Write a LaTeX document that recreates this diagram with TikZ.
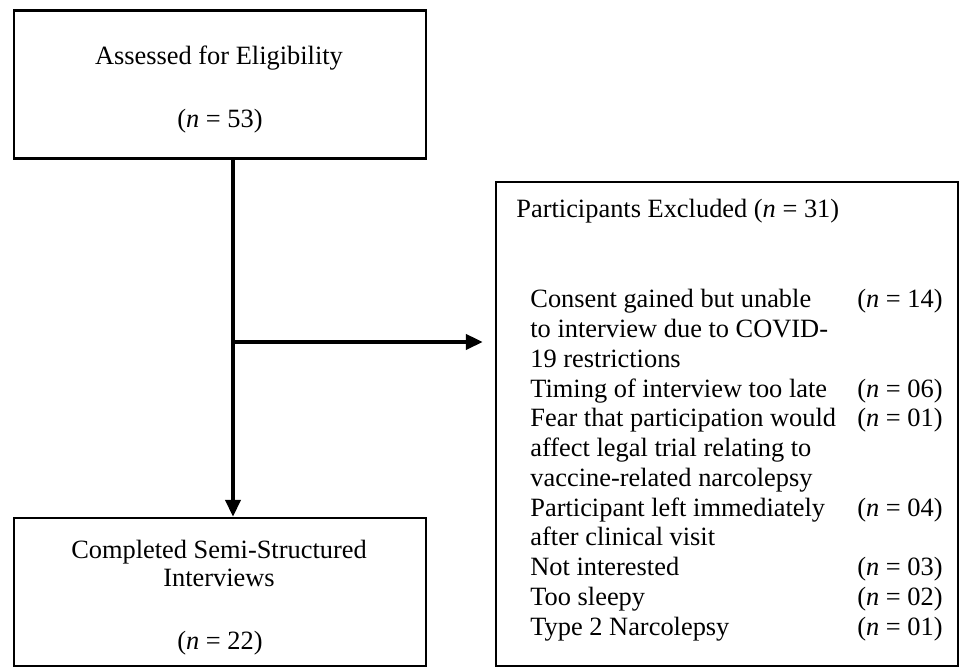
\documentclass[tikz,border=0pt]{standalone}
\usepackage{fontspec}
\setmainfont{Liberation Serif}
\usetikzlibrary{arrows.meta}

\tikzset{
  flowbox/.style={draw, line width=1.2pt, rectangle, inner sep=0pt},
  flowarrow/.style={line width=2.3pt, -{Triangle[length=8.5pt,width=7.5pt]}},
  txt/.style={inner sep=0pt, anchor=base}
}

\begin{document}
\begin{tikzpicture}[x=0.5pt,y=-0.5pt,font=\fontsize{13.2}{14.87}\selectfont]
\useasboundingbox (0,0) rectangle (960,667);
% boxes
\node[flowbox, minimum width=206pt, minimum height=74pt] (assess) at (220,84.5) {};
\node[flowbox, minimum width=206pt, minimum height=74pt] (done) at (220,592) {};
\node[flowbox, minimum width=231pt, minimum height=242pt] (excl) at (727,424) {};
% texts
\node[txt] (assesst) at (219,65) {Assessed for Eligibility};
\node[txt] (assessn) at (220,128) {(\textit{n} = 53)};
\node[txt] (donet1) at (219,559) {Completed Semi-Structured};
\node[txt] (donet2) at (219,587) {Interviews};
\node[txt] (donen) at (220,650) {(\textit{n} = 22)};
\node[txt, anchor=base west] (exclt) at (516,218) {Participants Excluded (\textit{n} = 31)};
\node[txt, anchor=base west] (reasons) at (530,308) {%
  \begin{tabular}[t]{@{}p{163.5pt}@{}l@{}}
  Consent gained but unable & (\textit{n} = 14)\\
  to interview due to COVID- & \\
  19 restrictions & \\
  Timing of interview too late & (\textit{n} = 06)\\
  Fear that participation would & (\textit{n} = 01)\\
  affect legal trial relating to & \\
  vaccine-related narcolepsy & \\
  Participant left immediately & (\textit{n} = 04)\\
  after clinical visit & \\
  Not interested & (\textit{n} = 03)\\
  Too sleepy & (\textit{n} = 02)\\
  Type 2 Narcolepsy & (\textit{n} = 01)
  \end{tabular}};
% connectors
\coordinate (trunk) at (233,342);
\draw[flowarrow] (assess.south -| trunk) -- (done.north -| trunk);
\draw[flowarrow, shorten >=6pt] (trunk) -- (excl.west |- trunk);
\end{tikzpicture}
\end{document}
